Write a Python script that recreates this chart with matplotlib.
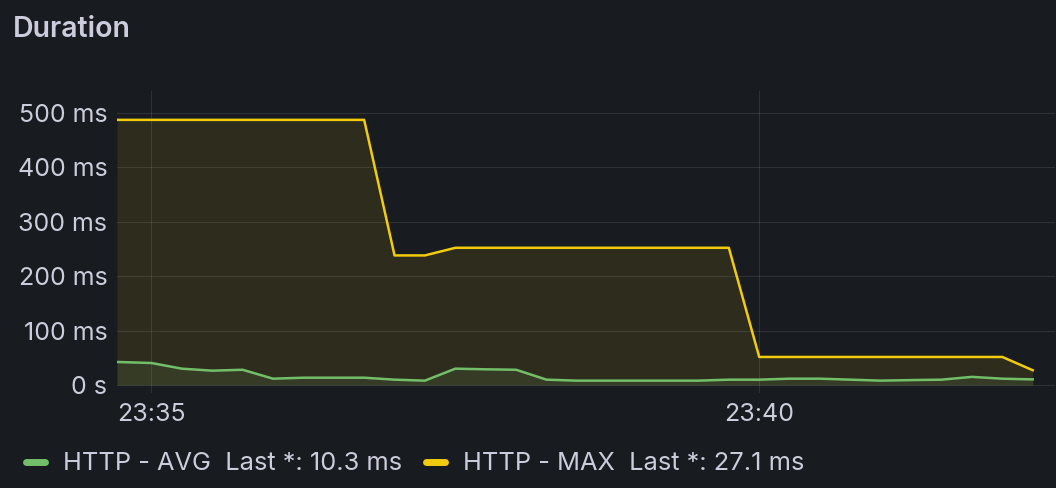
import matplotlib
matplotlib.use("Agg")
import matplotlib.pyplot as plt
from matplotlib.lines import Line2D
from matplotlib.ticker import FuncFormatter, FixedLocator

# seconds relative to 23:35:00, one sample every 15 s
t_sec = [-17] + list(range(0, 436, 15))

http_max = [487, 487, 487, 487, 487, 487, 487, 487, 487,
            238, 238,
            252, 252, 252, 252, 252, 252, 252, 252, 252, 252,
            51.5, 51.5, 51.5, 51.5, 51.5, 51.5, 51.5, 51.5, 51.5,
            27.1]
http_avg = [42.3, 40.4, 30, 26.3, 28, 11.6, 13.4, 13.4, 13.4, 9.8, 8,
            30, 28.8, 28, 9.8, 8, 8, 8, 8, 8, 9.8,
            9.8, 11.6, 11.6, 9.8, 8, 9, 9.8, 14.9, 11.6, 10.3]

y_ticks = [0, 100, 200, 300, 400, 500]
x_ticks = [0, 300]  # 23:35, 23:40

bg = "#181b1f"
txt = "#ccccdc"
green = "#73bf69"
yellow = "#f2cc0c"
grid_rgb = (204/255, 204/255, 220/255)

plt.rcParams["font.family"] = ["Inter", "DejaVu Sans"]

fig = plt.figure(figsize=(10.56, 4.88), dpi=100, facecolor=bg)
ax = fig.add_axes([117/1056, 1 - 393/488, (1055 - 117)/1056, (393 - 91)/488])
ax.set_facecolor(bg)

ax.fill_between(t_sec, http_max, 0, color=yellow, alpha=0.1, lw=0)
ax.fill_between(t_sec, http_avg, 0, color=green, alpha=0.1, lw=0)
ax.plot(t_sec, http_max, color=yellow, lw=1.8)
ax.plot(t_sec, http_avg, color=green, lw=1.8)

ax.set_xlim(-17, 446)
ax.set_ylim(-14.7, 540)

ax.yaxis.set_major_locator(FixedLocator(y_ticks))
ax.xaxis.set_major_locator(FixedLocator(x_ticks))
ax.yaxis.set_major_formatter(FuncFormatter(lambda v, p: "0 s" if v == 0 else f"{v:.0f} ms"))
ax.xaxis.set_major_formatter(FuncFormatter(
    lambda v, p: f"23:{35 + int(v) // 60:02d}"))

ax.grid(True, color=grid_rgb, alpha=0.13, lw=0.8)
ax.set_axisbelow(True)
for s in ax.spines.values():
    s.set_visible(False)
ax.tick_params(axis="both", length=0, colors=txt, labelsize=18)
ax.tick_params(axis="y", pad=7)
ax.tick_params(axis="x", pad=7)

fig.text(13/1056, 1 - 37/488, "Duration", color=txt, fontsize=20.5,
         fontweight="semibold", va="baseline", ha="left")

handles = [Line2D([], [], color=green, lw=5, solid_capstyle="round"),
           Line2D([], [], color=yellow, lw=5, solid_capstyle="round")]
labels = [f"HTTP - AVG  Last *: {http_avg[-1]} ms",
          f"HTTP - MAX  Last *: {http_max[-1]} ms"]
leg = ax.legend(handles, labels, loc="center left",
                bbox_to_anchor=(13/1056, 1 - 464/488), bbox_transform=fig.transFigure,
                ncol=2, frameon=False, fontsize=18.3, handlelength=0.75,
                handletextpad=0.72, columnspacing=0.92, borderpad=0)
for t in leg.get_texts():
    t.set_color(txt)

fig.savefig("out.png", dpi=100, facecolor=bg)
